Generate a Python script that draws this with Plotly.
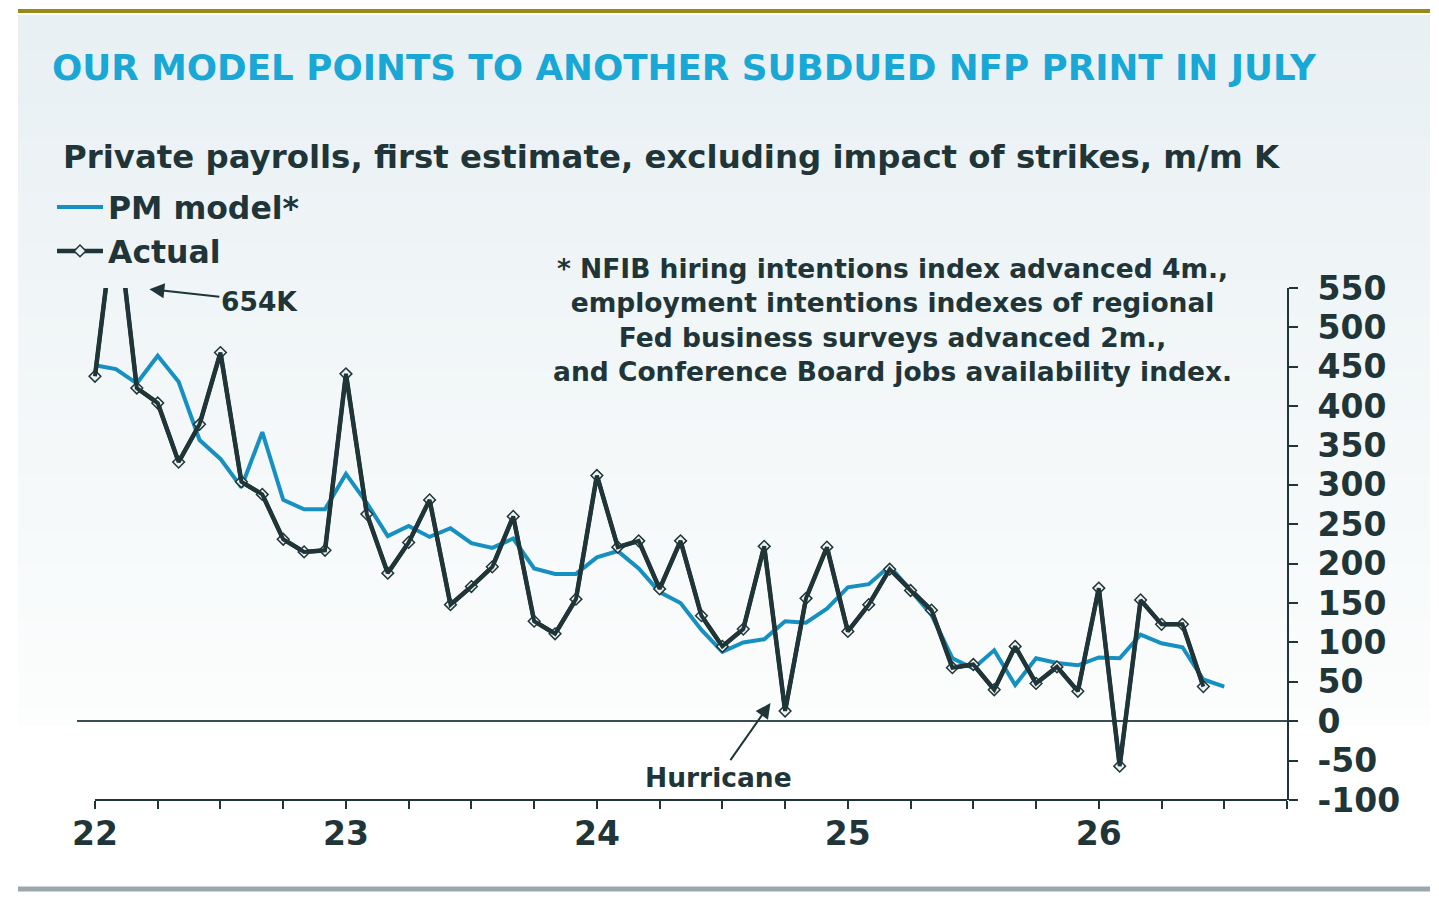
import plotly.graph_objects as go

# month index 0 = Jan 2022
actual = [438, 654, 423, 404, 329, 377, 468, 304, 288, 231, 215, 217,
          441, 263, 188, 227, 281, 148, 171, 196, 260, 127, 111, 155,
          312, 221, 229, 168, 229, 134, 95, 117, 222, 13, 156, 221,
          114, 148, 193, 166, 141, 68, 72, 40, 95, 48, 69, 38,
          169, -57, 154, 123, 123, 44]
pm_model = [452, 447, 429, 464, 431, 357, 333, 297, 367, 281, 269, 269,
            314, 277, 235, 248, 234, 245, 226, 220, 232, 194, 187, 187,
            208, 216, 194, 164, 150, 116, 88, 100, 104, 127, 125, 143,
            170, 174, 197, 166, 135, 80, 67, 90, 46, 80, 74, 71,
            81, 80, 110, 99, 94, 53, 44]
year_labels = ['22', '23', '24', '25', '26']
quarter_ticks = list(range(0, 58, 3))
y_ticks = list(range(-100, 551, 50))

DARK = '#1f3538'
BLUE = '#1690c0'
FONT = 'DejaVu Sans'

# page body adds an 8px margin, so the figure is a bit smaller and all
# pixel positions below are given in the 1439x905 frame
OFF = 8
W, H = 1439 - OFF, 905 - OFF
L, R, T, B = 77, 1287, 288, 800
XR = [-0.86, 57]
YR = [-100, 550]


def px(x):
    return (x - L) / (R - L)


def py(y):
    return (B - y) / (B - T)


fig = go.Figure()
fig.add_trace(go.Scatter(x=list(range(len(pm_model))), y=pm_model, name='PM model*',
                         mode='lines', line=dict(color=BLUE, width=4)))
fig.add_trace(go.Scatter(x=list(range(len(actual))), y=actual, name='Actual',
                         mode='lines+markers', line=dict(color=DARK, width=4.5),
                         marker=dict(symbol='diamond', size=9, color='#eef3f4',
                                     line=dict(color=DARK, width=1.5))))
fig.add_trace(go.Scatter(x=list(range(len(actual))), y=actual, mode='lines',
                         line=dict(color=DARK, width=4), showlegend=False, hoverinfo='skip'))

shapes = []
# background panel with a soft vertical gradient
top_c, bot_c = (232, 240, 243), (252, 253, 253)
n = 40
y0, y1 = 15, 725
for i in range(n):
    f = i / (n - 1)
    c = tuple(round(top_c[k] + (bot_c[k] - top_c[k]) * f) for k in range(3))
    ya = y0 + (y1 - y0) * i / n
    yb = y0 + (y1 - y0) * (i + 1) / n + 0.5
    shapes.append(dict(type='rect', xref='paper', yref='paper', layer='below',
                       x0=px(18), x1=px(1430), y0=py(ya), y1=py(yb),
                       fillcolor='rgb(%d,%d,%d)' % c, line=dict(width=0)))
shapes.append(dict(type='line', xref='paper', yref='paper', x0=px(18), x1=px(1430),
                   y0=py(11), y1=py(11), line=dict(color='#988a17', width=4)))
shapes.append(dict(type='line', xref='paper', yref='paper', x0=px(18), x1=px(1430),
                   y0=py(889), y1=py(889), line=dict(color='#9ca8ae', width=5)))
# x axis baseline starting at the first tick
x_first = (0 - XR[0]) / (XR[1] - XR[0])
shapes.append(dict(type='line', xref='paper', yref='paper', x0=x_first, x1=1,
                   y0=0, y1=0, line=dict(color=DARK, width=2)))

annotations = [
    dict(text='OUR MODEL POINTS TO ANOTHER SUBDUED NFP PRINT IN JULY', xref='paper', yref='paper',
         x=px(50), y=py(67), xanchor='left', yanchor='middle', showarrow=False,
         font=dict(family=FONT, size=35.7, color='#19a8d6', weight='bold')),
    dict(text='Private payrolls, first estimate, excluding impact of strikes, m/m K',
         xref='paper', yref='paper', x=px(61), y=py(157), xanchor='left', yanchor='middle',
         showarrow=False, font=dict(family=FONT, size=32.4, color=DARK, weight='bold')),
    dict(text='* NFIB hiring intentions index advanced 4m.,<br>employment intentions indexes of regional'
              '<br>Fed business surveys advanced 2m.,<br>and Conference Board jobs availability index.',
         xref='paper', yref='paper', x=px(892), y=py(320), xanchor='center', yanchor='middle',
         align='center', showarrow=False,
         font=dict(family=FONT, size=26.5, color=DARK, weight='bold')),
    dict(text='654K', x=2.6, y=548.5, xref='x', yref='y', ax=110, ay=12,
         showarrow=True, arrowhead=2, arrowsize=1.5, arrowwidth=2, arrowcolor=DARK,
         font=dict(family=FONT, size=26.5, color=DARK, weight='bold')),
    dict(text='Hurricane', x=32.3, y=23, xref='x', yref='y', ax=-52, ay=74,
         showarrow=True, arrowhead=2, arrowsize=1.5, arrowwidth=2, arrowcolor=DARK,
         font=dict(family=FONT, size=26.5, color=DARK, weight='bold')),
]

fig.update_layout(
    width=W, height=H,
    margin=dict(l=L - OFF, r=W - (R - OFF), t=T - OFF, b=H - (B - OFF), autoexpand=False),
    paper_bgcolor='white', plot_bgcolor='rgba(0,0,0,0)',
    font=dict(family=FONT, color=DARK),
    shapes=shapes, annotations=annotations,
    legend=dict(xref='container', yref='container', x=(52 - OFF) / W, y=1 - (180 - OFF) / H,
                xanchor='left', yanchor='top', bgcolor='rgba(0,0,0,0)',
                font=dict(family=FONT, size=31.5, color=DARK, weight='bold'),
                tracegroupgap=0, itemwidth=46),
)
fig.update_xaxes(range=XR, showgrid=False, zeroline=False, showline=False, automargin=False,
                 tickvals=quarter_ticks,
                 ticktext=[year_labels[v // 12] if v % 12 == 0 else '' for v in quarter_ticks],
                 ticks='outside', ticklen=8, tickwidth=2, tickcolor=DARK,
                 ticklabelstandoff=-4,
                 tickfont=dict(family=FONT, size=33, color=DARK, weight='bold'))
fig.update_yaxes(range=YR, side='right', showgrid=False, automargin=False,
                 tickvals=y_ticks, ticktext=[str(v) for v in y_ticks],
                 zeroline=True, zerolinecolor='#3a4d51', zerolinewidth=2,
                 showline=True, linecolor=DARK, linewidth=2,
                 ticks='outside', ticklen=9, tickwidth=2, tickcolor=DARK,
                 ticklabelstandoff=13,
                 tickfont=dict(family=FONT, size=33, color=DARK, weight='bold'))

fig.write_html('out.html')
